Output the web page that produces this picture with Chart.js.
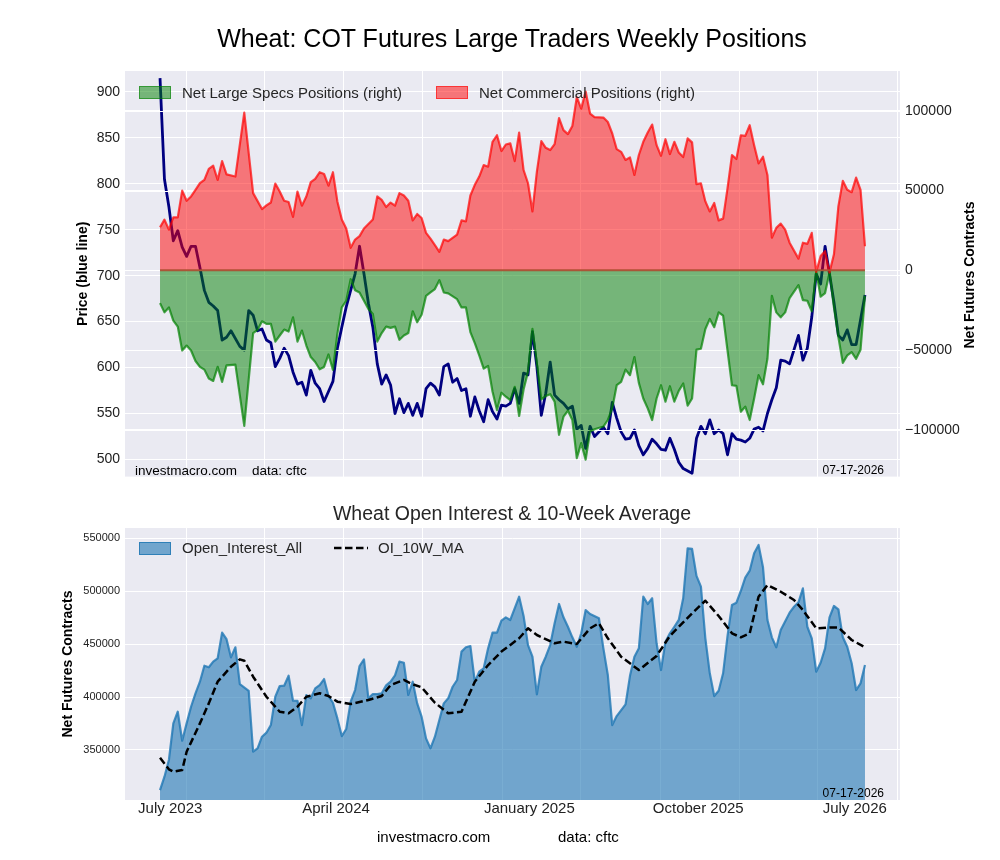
<!DOCTYPE html>
<html>
<head>
<meta charset="utf-8">
<title>Wheat COT Futures Large Traders Weekly Positions</title>
<script src="https://cdn.jsdelivr.net/npm/chart.js@4.4.1/dist/chart.umd.min.js"></script>
<style>
  body { margin: 0; background: #fff; font-family: "Liberation Sans", Arial, sans-serif; color: #000; }
  #page { position: relative; width: 1000px; height: 860px; overflow: hidden; }
  canvas { position: absolute; left: 0; }
  #topChart { top: 0; }
  #oiChart { top: 490px; }
  .t { position: absolute; white-space: nowrap; line-height: 1; }
  .sw { position: absolute; width: 30px; height: 11px; }
</style>
</head>
<body>
<div id="page">
  <canvas id="topChart" width="1000" height="490"></canvas>
  <canvas id="oiChart" width="1000" height="370"></canvas>

  <div class="t" style="left:0;width:1024px;text-align:center;top:26px;font-size:25px;">Wheat: COT Futures Large Traders Weekly Positions</div>

  <div class="sw" style="left:139px;top:86px;background:rgba(0,128,0,0.5);border:1px solid rgba(0,128,0,0.55);"></div>
  <div class="t" style="left:182px;top:85px;font-size:15px;color:#262626;">Net Large Specs Positions (right)</div>
  <div class="sw" style="left:436px;top:86px;background:rgba(255,0,0,0.5);border:1px solid rgba(255,0,0,0.55);"></div>
  <div class="t" style="left:479px;top:85px;font-size:15px;color:#262626;">Net Commercial Positions (right)</div>

  <div class="t" style="top:267px;width:300px;margin-left:-150px;text-align:center;line-height:16px;font-size:14px;font-weight:bold;transform:rotate(-90deg);left:969px;">Net Futures Contracts</div>

  <div class="t" style="left:135px;top:464px;font-size:13.5px;">investmacro.com</div>
  <div class="t" style="left:252px;top:464px;font-size:13.5px;">data: cftc</div>
  <div class="t" style="right:116px;top:464px;font-size:12px;">07-17-2026</div>

  <div class="t" style="left:0;width:1024px;text-align:center;top:504px;font-size:19.5px;color:#262626;">Wheat Open Interest &amp; 10-Week Average</div>

  <div class="sw" style="left:139px;top:542px;background:rgba(31,119,180,0.6);border:1px solid rgba(31,119,180,0.8);"></div>
  <div class="t" style="left:182px;top:540px;font-size:15px;color:#262626;">Open_Interest_All</div>
  <svg style="position:absolute;left:334px;top:543px;" width="34" height="10"><line x1="0" y1="5" x2="34" y2="5" stroke="#000" stroke-width="2.5" stroke-dasharray="7.5 3.5"/></svg>
  <div class="t" style="left:378px;top:540px;font-size:15px;color:#262626;">OI_10W_MA</div>

  <div class="t" style="right:116px;top:787px;font-size:12px;">07-17-2026</div>

  <div class="t" style="left:377px;top:829px;font-size:15px;">investmacro.com</div>
  <div class="t" style="left:558px;top:829px;font-size:15px;">data: cftc</div>
</div>

<script>
// weekly report index, June 2023 .. July 2026
const weeks = [
  0, 1, 2, 3, 4, 5, 6, 7, 8, 9,
  10, 11, 12, 13, 14, 15, 16, 17, 18, 19,
  20, 21, 22, 23, 24, 25, 26, 27, 28, 29,
  30, 31, 32, 33, 34, 35, 36, 37, 38, 39,
  40, 41, 42, 43, 44, 45, 46, 47, 48, 49,
  50, 51, 52, 53, 54, 55, 56, 57, 58, 59,
  60, 61, 62, 63, 64, 65, 66, 67, 68, 69,
  70, 71, 72, 73, 74, 75, 76, 77, 78, 79,
  80, 81, 82, 83, 84, 85, 86, 87, 88, 89,
  90, 91, 92, 93, 94, 95, 96, 97, 98, 99,
  100, 101, 102, 103, 104, 105, 106, 107, 108, 109,
  110, 111, 112, 113, 114, 115, 116, 117, 118, 119,
  120, 121, 122, 123, 124, 125, 126, 127, 128, 129,
  130, 131, 132, 133, 134, 135, 136, 137, 138, 139,
  140, 141, 142, 143, 144, 145, 146, 147, 148, 149,
  150, 151, 152, 153, 154, 155, 156, 157, 158, 159
];

// price (blue line, left axis)
const price = [
  915, 805, 775, 738, 749, 731, 721, 732, 732, 709,
  684, 671, 667, 662, 630, 633, 640, null, 623, 619,
  662, 657, 640, 642, 630, 627, 601, 610, 621, 613,
  595, 582, 584, 570, 597, 583, 577, 563, 574, 585,
  621, 644, 666, 684, 702, 732, 702, 670, 644, 604,
  582, 592, 581, 550, 566, 551, 561, 548, 561, 547,
  577, 583, 579, 570, 601, 604, 584, 588, 575, 577,
  547, 568, 553, 541, 565, 552, 544, 559, 558, 561,
  577, 561, 594, 592, 639, 601, 548, 572, 606, 570,
  565, 561, 555, 558, 533, 537, 512, 536, 525, null,
  535, 528, 562, 545, 530, 522, 523, 532, 515, 505,
  512, 522, 517, 511, 510, 523, 511, 497, 490, null,
  485, 523, 536, 528, 543, 528, 532, 528, 505, 528,
  522, 521, 519, 523, 533, 535, 531, 550, 565, 578,
  608, 607, 604, null, 635, 608, 621, 655, 702, 691,
  732, 702, 671, 635, 630, 641, 625, 625, 652, 679
];

// net large specs positions (right axis)
const specs = [
  -20600, -26400, -23300, -31600, -35300, -50300, -47200, -50300, -56900, -60600,
  -62300, -67900, -69400, -60600, -70000, -59600, null, -59200, null, -97600,
  null, -39400, -37400, -32000, -33600, -33600, -44700, -40900, -37200, -38400,
  -29500, -44700, -37800, -47200, -54400, -57500, -62100, -60600, -52800, -62500,
  -39900, -23300, -19100, -5600, -12500, -13900, -19100, -24300, -27400, -44700,
  -39400, -35300, -36100, -35300, -43600, -40900, -39300, -25700, -32600, -27900,
  -16000, -13900, -11800, -6200, -13900, -14500, null, -18100, -23300, -23300,
  -38800, -45700, -53400, -61700, -60000, -76200, -87700, -76800, -79300, -81500,
  -73100, -91400, -74800, -63700, -36800, -58600, -81000, -78900, -77700, -82400,
  -103200, -91800, -88100, -93900, -117800, -108400, -118800, -101100, -99700, null,
  -98000, -93900, -86600, -72100, -70000, -62300, -65800, -54400, -70600, -80400,
  -86600, -93900, -80400, -72100, -82400, -72700, -82400, -75600, -71000, -84900,
  -80400, -49800, -49200, -36800, -30500, -35700, -26400, -28500, -50300, -72100,
  -72500, -88700, -85500, -93900, -80400, -65800, -71500, -55500, -16000, -26400,
  -29500, -26400, -17400, null, -9300, -18700, -19100, -25700, -1000, -16600,
  -14300, -1400, -23300, -41900, -58100, -53400, -51300, -55500, -49800, -16000
];

// net commercial positions (right axis)
const commercials = [
  27000, 31800, 25500, 33200, 33200, 50000, 43600, 46300, 50500, 54600,
  56700, 63600, 65600, 56700, 68500, 60200, null, 58800, null, 98900,
  null, 48400, null, 38400, 40700, 42500, 54400, 49400, 43600, 42800,
  33500, 49400, 40500, 46300, 55300, 57300, 61500, 60400, 53100, 61500,
  43200, 31800, 26200, 14100, 19300, 21400, 26200, null, 31800, 46300,
  44200, 39700, 42500, 40500, 48400, 46900, 43600, 31300, 35300, 32800,
  23500, 19900, 15800, 11600, 19300, 18300, null, 22400, 31300, 30700,
  46900, 53600, 58800, 66000, 65000, 80600, 84700, 74800, 78900, 79600,
  68500, 86400, 62900, 54600, 36900, 61900, 81000, 76800, 75400, 79100,
  95500, 87900, 85400, 90500, 108600, 101400, 112100, 98300, 96100, null,
  95800, 93000, 85800, 76000, 74300, 69200, 70800, 59800, 72300, 80600,
  86400, 91400, 78500, 71800, 82200, 72900, 80600, 73900, 71000, 82700,
  80200, 54000, 54600, 43200, 36900, 42200, 31300, 32400, 51500, 72300,
  69800, 84700, 84300, 91000, 78500, 67100, 71200, 59800, 20400, 26600,
  29300, 25500, 17300, null, 7300, 17300, 16600, 23500, -1000, 8900,
  12000, -1400, 10000, 40100, 56100, 50500, 49000, 58100, 50500, 15100
];

// open interest (all)
const openInterest = [
  312100, 324700, 340500, 375100, 386100, 358700, 375100, 390800, 403500, 414500,
  429600, 428100, 433500, 436600, 460800, 454600, 437500, 447000, 412300, null,
  405900, 348300, 351500, 362500, 366300, 373500, 400300, 410400, 410700, 420100,
  396500, 396500, 373500, 401900, 398800, 408200, 411300, 417000, 400900, 394600,
  379800, 363100, 369800, 395600, 406600, 429300, 435600, 398800, 402800, 402800,
  403500, 411000, 414500, 420500, 433400, 432400, 401900, 414500, 394000, 381400,
  360900, 351500, 362500, 378300, 394000, 398800, 409700, 416100, 442900, 447000,
  448200, 414500, 423900, 427100, 446000, 460800, 460800, 472100, 475300, 472800,
  null, 494800, 476600, 449100, 438100, 402600, 428600, 438100, 449100, 469700,
  487900, 475300, 466400, 456400, 447500, 460200, 482200, 478400, null, 474400,
  446000, 420800, 373500, 382000, null, 393000, 420000, 438100, 446000, 494800,
  487900, 493300, 450800, 425500, 452300, 460200, 466400, 472800, 493300, 540500,
  539900, 514400, 504300, 455500, 422400, 400900, 405900, 422400, 457700, 487000,
  489100, 500200, 512800, 519400, 535800, 543700, 522600, 472800, 456400, 447000,
  463300, null, 479700, 485300, 489500, 502700, 466400, 455500, 423900, 432400,
  446000, 475300, 486000, 482900, 456400, 447500, 431900, 406600, 412900, 430200
];

// 10-week average of open interest (read at its bends)
const oiAverage = [
  342600, null, 331700, 329400, null, 331000, 348300, null, null, 375100,
  null, 394000, null, 414500, null, null, 428600, null, 435600, 434300,
  null, 419200, null, null, 400300, null, null, 386100, null, 384600,
  null, 390800, null, 400300, null, null, 403500, null, 400900, null,
  395600, null, null, 393400, null, null, null, 397200, null, null,
  400900, null, 411300, null, null, 416100, null, 412000, null, 409200,
  null, null, 394600, null, null, 384600, null, null, 386100, null,
  null, 414500, null, null, 430200, null, null, 442900, null, null,
  null, 455500, null, 464900, null, 458600, null, null, null, 450800,
  null, 452300, null, null, 450100, null, null, 464900, null, 469700,
  null, 455500, null, null, 438100, null, null, null, 425500, null,
  null, null, 438800, null, null, 457700, null, null, null, null,
  479100, null, null, 491000, null, null, 476600, null, null, 460200,
  null, 456400, null, 460200, null, 494800, null, 505900, null, null,
  499500, null, null, 491700, null, 482200, null, null, 464900, null,
  null, 465800, null, 465800, null, null, 453900, null, null, 447000
];

const priceTicks = [500, 550, 600, 650, 700, 750, 800, 850, 900];
const netTicks = [-100000, -50000, 0, 50000, 100000];
const oiTicks = [350000, 400000, 450000, 500000, 550000];
const gridWeeks = [5.9, 23.6, 41.4, 59.3, 77.2, 94.8, 112.8, 130.6, 148.4, 166.4];
const labelWeeks = [2.3, 39.7, 83.3, 121.4, 156.7];
const labelTexts = ["July 2023", "April 2024", "January 2025", "October 2025", "July 2026"];

const weekMin = -7.9, weekMax = 166.9;

Chart.defaults.font.family = '"Liberation Sans", Arial, sans-serif';
Chart.defaults.color = "#222";

const areaBg = {
  id: "areaBg",
  beforeDraw(chart) {
    const { ctx, chartArea: a } = chart;
    ctx.save();
    ctx.fillStyle = "#eaeaf2";
    ctx.fillRect(a.left, a.top, a.right - a.left, a.bottom - a.top);
    ctx.restore();
  }
};

// the right-axis grid sits above the price line, below the fills
const rightGridOverPrice = {
  id: "rightGridOverPrice",
  afterDatasetDraw(chart, args) {
    if (args.index !== 0) return;
    const { ctx, chartArea: a } = chart;
    const yR = chart.scales.yR;
    ctx.save();
    ctx.strokeStyle = "#ffffff";
    ctx.lineWidth = 1;
    ctx.beginPath();
    netTicks.forEach(v => {
      const y = Math.round(yR.getPixelForValue(v)) + 0.5;
      ctx.moveTo(a.left, y);
      ctx.lineTo(a.right, y);
    });
    ctx.stroke();
    ctx.restore();
  }
};

const zeroLine = {
  id: "zeroLine",
  afterDatasetsDraw(chart) {
    const { ctx } = chart;
    const x = chart.scales.x, yR = chart.scales.yR;
    const y = yR.getPixelForValue(0);
    ctx.save();
    ctx.strokeStyle = "rgba(170,75,45,0.9)";
    ctx.lineWidth = 2;
    ctx.beginPath();
    ctx.moveTo(x.getPixelForValue(weeks[0]), y);
    ctx.lineTo(x.getPixelForValue(weeks[weeks.length - 1]), y);
    ctx.stroke();
    ctx.restore();
  }
};

function gridAxis() {
  return {
    type: "linear", min: weekMin, max: weekMax, bounds: "data",
    afterBuildTicks: s => { s.ticks = gridWeeks.map(v => ({ value: v })); },
    ticks: { display: false },
    grid: { color: "#ffffff", lineWidth: 1, drawTicks: false },
    border: { display: false },
    afterFit: s => { s.height = 0; }
  };
}

function minusFmt(v) {
  return v < 0 ? "\u2212" + Math.abs(v) : String(v);
}

new Chart(document.getElementById("topChart"), {
  type: "line",
  data: {
    labels: weeks,
    datasets: [
      {
        label: "Price",
        data: price,
        yAxisID: "yL",
        borderColor: "#000080",
        borderWidth: 2.8,
        fill: false,
        order: 3
      },
      {
        label: "Net Large Specs Positions (right)",
        data: specs,
        yAxisID: "yR",
        borderColor: "rgba(0,128,0,0.7)",
        backgroundColor: "rgba(0,128,0,0.5)",
        borderWidth: 2.2,
        fill: { value: 0 },
        order: 2
      },
      {
        label: "Net Commercial Positions (right)",
        data: commercials,
        yAxisID: "yR",
        borderColor: "rgba(255,0,0,0.7)",
        backgroundColor: "rgba(255,0,0,0.5)",
        borderWidth: 2.2,
        fill: { value: 0 },
        order: 1
      }
    ]
  },
  options: {
    responsive: false,
    animation: false,
    events: [],
    spanGaps: true,
    elements: {
      point: { radius: 0 },
      line: { tension: 0, borderJoinStyle: "round" }
    },
    layout: { padding: { top: 71, bottom: 11, left: 71, right: 18 } },
    plugins: { legend: { display: false }, tooltip: { enabled: false } },
    scales: {
      x: gridAxis(),
      yL: {
        type: "linear", position: "left", min: 481.3, max: 922.8, bounds: "data",
        afterBuildTicks: s => { s.ticks = priceTicks.map(v => ({ value: v })); },
        ticks: { font: { size: 14 }, color: "#222", padding: 5 },
        grid: { color: "#ffffff", drawTicks: false },
        border: { display: false },
        title: {
          display: true, text: "Price (blue line)", color: "#000",
          font: { size: 14, weight: "bold" }, padding: { top: 4, bottom: 4 }
        },
        afterFit: s => { s.width = 54; }
      },
      yR: {
        type: "linear", position: "right", min: -129400, max: 125000, bounds: "data",
        afterBuildTicks: s => { s.ticks = netTicks.map(v => ({ value: v })); },
        ticks: { font: { size: 14 }, color: "#222", padding: 5, callback: v => minusFmt(v) },
        grid: { color: "#ffffff", drawTicks: false },
        border: { display: false },
        afterFit: s => { s.width = 82; }
      }
    }
  },
  plugins: [areaBg, rightGridOverPrice, zeroLine]
});

new Chart(document.getElementById("oiChart"), {
  type: "line",
  data: {
    labels: weeks,
    datasets: [
      {
        label: "Open_Interest_All",
        data: openInterest,
        borderColor: "rgba(31,119,180,0.8)",
        backgroundColor: "rgba(31,119,180,0.6)",
        borderWidth: 2.2,
        fill: "start",
        order: 2
      },
      {
        label: "OI_10W_MA",
        data: oiAverage,
        borderColor: "#000000",
        borderWidth: 2.5,
        borderDash: [7.5, 3.5],
        fill: false,
        order: 1
      }
    ]
  },
  options: {
    responsive: false,
    animation: false,
    events: [],
    spanGaps: true,
    elements: {
      point: { radius: 0 },
      line: { tension: 0, borderJoinStyle: "round" }
    },
    layout: { padding: { top: 38, bottom: 35, left: 56, right: 100 } },
    plugins: { legend: { display: false }, tooltip: { enabled: false } },
    scales: {
      x: gridAxis(),
      xl: {
        type: "linear", position: "bottom", min: weekMin, max: weekMax, bounds: "data",
        afterBuildTicks: s => { s.ticks = labelWeeks.map(v => ({ value: v })); },
        ticks: {
          autoSkip: false, maxRotation: 0, minRotation: 0, padding: 0,
          font: { size: 15 }, color: "#222",
          callback: (v, i) => labelTexts[i]
        },
        grid: { display: false, drawTicks: false },
        border: { display: false },
        afterFit: s => { s.height = 25; }
      },
      y: {
        type: "linear", position: "left", min: 302700, max: 559700, bounds: "data",
        afterBuildTicks: s => { s.ticks = oiTicks.map(v => ({ value: v })); },
        ticks: { font: { size: 11 }, color: "#222", padding: 5, callback: v => String(v) },
        grid: { color: "#ffffff", drawTicks: false },
        border: { display: false },
        title: {
          display: true, text: "Net Futures Contracts", color: "#000",
          font: { size: 14, weight: "bold" }, padding: { top: 4, bottom: 4 }
        },
        afterFit: s => { s.width = 69; }
      }
    }
  },
  plugins: [areaBg]
});
</script>
</body>
</html>
